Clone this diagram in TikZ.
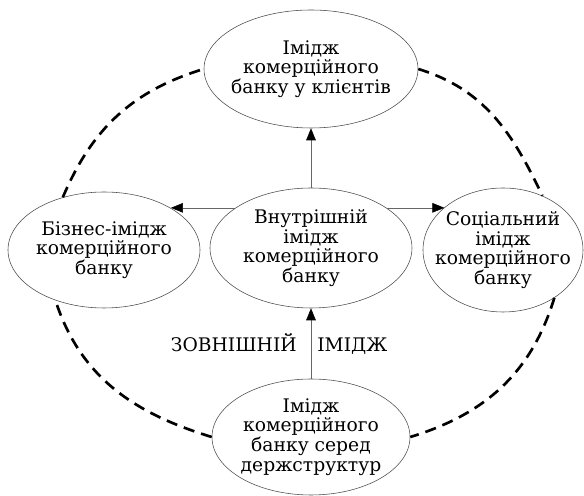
\documentclass[tikz,border=0pt]{standalone}
\usepackage{fontspec}
\setmainfont{DejaVu Serif}
\usetikzlibrary{shapes.geometric,arrows.meta}
\tikzset{
  img/.style={ellipse, draw=black!70, thin, align=center, inner sep=-0.8cm, font=\fontsize{13.3}{14}\selectfont},
  arr/.style={draw=black!60, thin, -{Triangle[length=3mm,width=2.4mm,color=black]}},
  ring/.style={line width=1.9pt, dash pattern=on 8pt off 5pt},
  lbl/.style={inner sep=0pt, font=\fontsize{13.3}{14}\selectfont}
}
\begin{document}
\begin{tikzpicture}
\useasboundingbox (-7.675,-6.02) rectangle (6.925,6.375);

\node[img, minimum width=5.35cm, minimum height=2.95cm] (top) at (0.1,4.65) {Імідж\\комерційного\\банку у клієнтів};
\node[img, minimum width=4.8cm, minimum height=2.9cm] (biz) at (-5.075,0.125) {Бізнес-імідж\\комерційного\\банку};
\node[img, minimum width=5.05cm, minimum height=3cm] (inner) at (0.1,0.175) {Внутрішній\\імідж\\комерційного\\банку};
\node[img, minimum width=4cm, minimum height=3.1cm] (soc) at (4.9,0.125) {Соціальний\\імідж\\комерційного\\банку};
\node[img, minimum width=4.95cm, minimum height=2.9cm] (gov) at (0.1,-4.55) {Імідж\\комерційного\\банку серед\\держструктур};

\node[lbl, anchor=base east] (zovn) at (-0.25,-2.425) {ЗОВНІШНІЙ};
\node[lbl, anchor=base west] (imidzh) at (0.25,-2.425) {ІМІДЖ};

\draw[arr] (inner) -- (top);
\draw[arr] (inner.152) -- (inner.152 -| biz.32);
\draw[arr] (inner.28) -- (inner.28 -| soc.144.5);
\draw[arr] (gov) -- (inner);

\draw[ring] (biz.128) to[out=67, in=197] (top.west);
\draw[ring] (top.east) to[out=-17, in=115.5] (soc.54);
\draw[ring] (soc.317) to[out=253, in=17] (gov.east);
\draw[ring] (gov.west) to[out=163, in=-72] (biz.226);

\end{tikzpicture}
\end{document}
